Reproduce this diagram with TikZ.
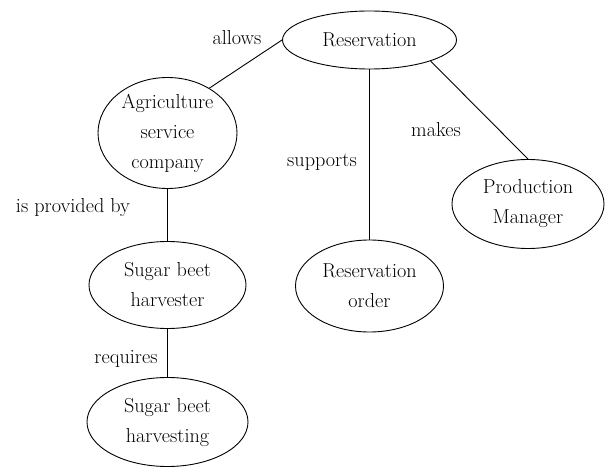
\documentclass[tikz,border=0pt]{standalone}
\usetikzlibrary{shapes.geometric}
\tikzset{
  concept/.style={draw, ellipse, line width=0.9pt, inner sep=0pt, align=center,
    font=\fontsize{20.2}{30}\selectfont},
  link/.style={draw, line width=0.9pt},
  relation/.style={anchor=base, inner sep=0pt, font=\fontsize{20.2}{30}\selectfont}
}
\begin{document}
\begin{tikzpicture}[x=1pt, y=-1pt]
  \useasboundingbox (0,0) rectangle (606,468);

  % concepts
  \node[concept, minimum width=174pt, minimum height=58pt]  (res) at (369.5,40)  {Reservation};
  \node[concept, minimum width=139pt, minimum height=111pt] (asc) at (167.5,133) {Agriculture\\service\\company};
  \node[concept, minimum width=157pt, minimum height=87pt]  (sbh) at (167.5,285) {Sugar beet\\harvester};
  \node[concept, minimum width=161pt, minimum height=89pt]  (sbg) at (167.5,422) {Sugar beet\\harvesting};
  \node[concept, minimum width=148pt, minimum height=92pt]  (ro)  at (369.5,286) {Reservation\\order};
  \node[concept, minimum width=152pt, minimum height=89pt]  (pm)  at (528,204)   {Production\\Manager};

  % connectors
  \draw[link] (res.west) -- (asc.47);
  \draw[link] (res.south) -- (ro.north);
  \draw[link] (res.-19.5) -- (pm.north);
  \draw[link] (asc.south) -- (sbh.north);
  \draw[link] (sbh.south) -- (sbg.north);

  % relation labels
  \node[relation] (lallows)   at (237,45)  {allows};
  \node[relation] (lsupports) at (322,167) {supports};
  \node[relation] (lmakes)    at (436,137) {makes};
  \node[relation] (lprovided) at (73,213)  {is provided by};
  \node[relation] (lrequires) at (126,363) {requires};
\end{tikzpicture}
\end{document}
